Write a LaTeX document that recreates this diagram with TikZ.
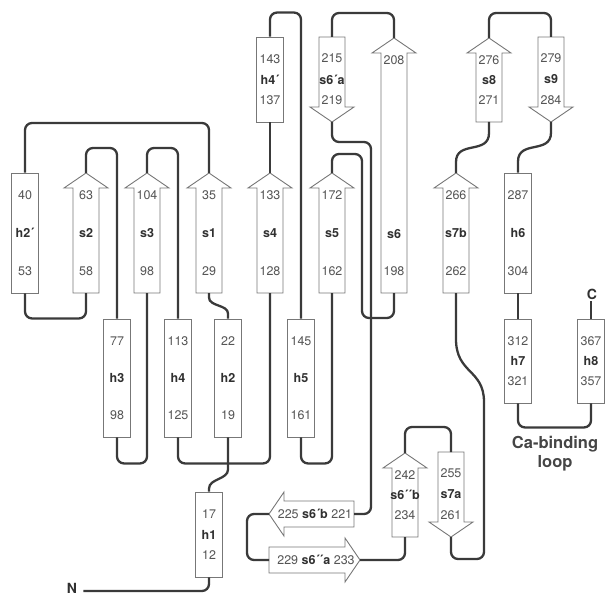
\documentclass[tikz,border=0pt]{standalone}
\usepackage{fontspec}
\setmainfont{TeX Gyre Heros}
\usepackage{xcolor}
\usepackage{tikz}

\definecolor{loopgray}{HTML}{3A3A3A}
\definecolor{boxgray}{HTML}{777777}
\definecolor{numgray}{HTML}{555555}
\definecolor{labgray}{HTML}{303030}

\newcommand{\drawhelix}[7]{%
  \node[helixbox, minimum height={(#4-#3)*1pt}] (#1) at ({#2},{(#3+#4)/2}) {};
  \node[numtext] (#1-a) at ({#2},{#3+22}) {#5};
  \node[labtext] (#1-l) at ({#2},{(#3+#4)/2}) {#6};
  \node[numtext] (#1-b) at ({#2},{#4-22}) {#7};
}
\newcommand{\drawstrandup}[7]{%
  \draw[strandbox] ({#2-13},{#4}) -- ({#2-13},{#3+15}) -- ({#2-22},{#3+15}) -- ({#2},{#3})
    -- ({#2+22},{#3+15}) -- ({#2+13},{#3+15}) -- ({#2+13},{#4}) -- cycle;
  \coordinate (#1-tip) at ({#2},{#3});
  \coordinate (#1-tail) at ({#2},{#4});
  \node[numtext] (#1-a) at ({#2},{#3+22}) {#5};
  \node[labtext] (#1-l) at ({#2},{(#3+#4)/2}) {#6};
  \node[numtext] (#1-b) at ({#2},{#4-22}) {#7};
}
\newcommand{\drawstranddown}[7]{%
  \draw[strandbox] ({#2-13},{#3}) -- ({#2+13},{#3}) -- ({#2+13},{#4-15}) -- ({#2+22},{#4-15})
    -- ({#2},{#4}) -- ({#2-22},{#4-15}) -- ({#2-13},{#4-15}) -- cycle;
  \coordinate (#1-tail) at ({#2},{#3});
  \coordinate (#1-tip) at ({#2},{#4});
  \node[numtext] (#1-a) at ({#2},{#3+21}) {#5};
  \node[labtext] (#1-l) at ({#2},{(#3+#4)/2}) {#6};
  \node[numtext] (#1-b) at ({#2},{#4-22}) {#7};
}

\begin{document}
\begin{tikzpicture}[x=1pt, y=-1pt,
  helixbox/.style={draw=boxgray, fill=white, line width=0.9pt, minimum width=27pt, inner sep=0pt},
  strandbox/.style={draw=boxgray, fill=white, line width=0.9pt},
  numtext/.style={text=numgray, font=\fontsize{12.5}{14}\selectfont, inner sep=0pt},
  labtext/.style={text=labgray, font=\fontsize{12.5}{14}\selectfont\bfseries, inner sep=0pt},
  endtext/.style={text=labgray, font=\fontsize{14}{16}\selectfont\bfseries},
  conn/.style={draw=loopgray, line width=2.3pt, rounded corners=7pt}]
  \useasboundingbox (0,0) rectangle (605,596);

  % helices
  \drawhelix{h2p}{25}{173}{293}{40}{h2´}{53}
  \drawhelix{h4p}{270}{37}{122}{143}{h4´}{137}
  \drawhelix{h3}{117}{319}{437}{77}{h3}{98}
  \drawhelix{h4}{178}{319}{437}{113}{h4}{125}
  \drawhelix{h2}{228}{319}{437}{22}{h2}{19}
  \drawhelix{h5}{301}{319}{437}{145}{h5}{161}
  \drawhelix{h1}{209}{492}{577}{17}{h1}{12}
  \drawhelix{h6}{518}{173}{293}{287}{h6}{304}
  \drawhelix{h7}{518}{319}{403}{312}{h7}{321}
  \drawhelix{h8}{591}{319}{403}{367}{h8}{357}

  % strands
  \drawstrandup{s2}{86}{173}{293}{63}{s2}{58}
  \drawstrandup{s3}{147}{173}{293}{104}{s3}{98}
  \drawstrandup{s1}{209}{173}{293}{35}{s1}{29}
  \drawstrandup{s4}{270}{173}{293}{133}{s4}{128}
  \drawstrandup{s5}{332}{173}{293}{172}{s5}{162}
  \drawstrandup{s6}{394}{38}{293}{208}{}{198}
  \node[labtext] (s6-lab) at (394,234) {s6};
  \drawstrandup{s7b}{456}{173}{293}{266}{s7b}{262}
  \drawstrandup{s8}{489}{38}{122}{276}{s8}{271}
  \drawstrandup{s6ppb}{405}{453}{537}{242}{s6´\kern-0.5pt´b}{234}
  \drawstranddown{s6pa}{332}{37}{122}{215}{s6´a}{219}
  \drawstranddown{s9}{551}{37}{122}{279}{s9}{284}
  \drawstranddown{s7a}{451}{452}{537}{255}{s7a}{261}

  \draw[strandbox] (354,501) -- (284,501) -- (284,492) -- (269,514) -- (284,536) -- (284,527) -- (354,527) -- cycle;
  \coordinate (s6pb-tip) at (269,514);
  \coordinate (s6pb-tail) at (354,514);
  \node[numtext] (s6pb-t) at (315,514) {225 {\color{labgray}\bfseries s6´b} 221};
  \draw[strandbox] (269,547) -- (345,547) -- (345,538) -- (360,560) -- (345,582) -- (345,573) -- (269,573) -- cycle;
  \coordinate (s6ppa-tail) at (269,560);
  \coordinate (s6ppa-tip) at (360,560);
  \node[numtext] (s6ppa-t) at (316,560) {229 {\color{labgray}\bfseries s6´\kern-0.5pt´a} 233};

  % termini and loop label
  \node[endtext, inner xsep=6pt, inner ysep=2pt] (N) at (72,588) {N};
  \node[endtext, inner sep=2pt] (C) at (592,294) {C};
  \node[endtext, text=labgray!90, font=\fontsize{16.5}{19}\selectfont\bfseries, align=center] (cab) at (555,454) {Ca-binding\\loop};

  % connections
  \draw[conn] ([yshift=-3pt]N.east) -| (h1.south);
  \draw[conn, sharp corners] (h1.north) -- ++(0,-3) .. controls +(0,-10) and +(0,10) .. ++(19,-19) -- (h2.south);
  \draw[conn, sharp corners] (h2.north) -- ++(0,-5) .. controls +(0,-9) and +(0,9) .. ++(-19,-16) -- (s1-tail);
  \draw[conn] (s1-tip) -- ++(0,-50) -| (h2p.north);
  \draw[conn] (h2p.south) -- ++(0,25) -| (s2-tail);
  \draw[conn] (s2-tip) -- ++(0,-25) -| (h3.north);
  \draw[conn] (h3.south) -- ++(0,26) -| (s3-tail);
  \draw[conn] (s3-tip) -- ++(0,-25) -| (h4.north);
  \draw[conn] (h4.south) -- ++(0,26) -| (s4-tail);
  \draw[conn] (s4-tip) -- (h4p.south);
  \draw[conn] (h4p.north) -- ++(0,-24) -| (h5.north);
  \draw[conn] (h5.south) -- ++(0,26) -| (s5-tail);
  \draw[conn] (s5-tip) -- ++(0,-19) -- ++(30,0) -- ++(0,164) -| (s6-tail);
  \draw[conn] (s6-tip) -- ++(0,-25) -| (s6pa-tail);
  \draw[conn] (s6pa-tip) -- ++(0,20) -- ++(39,0) |- (s6pb-tail);
  \draw[conn] (s6pb-tip) -- ++(-22,0) |- (s6ppa-tail);
  \draw[conn] (s6ppa-tip) -| (s6ppb-tail);
  \draw[conn] (s6ppb-tip) -- ++(0,-26) -| (s7a-tail);
  \draw[conn] (s7a-tip) -- ++(0,22) -- ++(33,0) -- ++(0,-150) [sharp corners] .. controls +(0,-40) and +(0,35) .. ++(-28,-70) -- (s7b-tail);
  \draw[conn, sharp corners] (s7b-tip) -- ++(0,-11) .. controls +(0,-22) and +(0,22) .. ++(33,-29) -- (s8-tail);
  \draw[conn] (s8-tip) -- ++(0,-25) -| (s9-tail);
  \draw[conn, sharp corners] (h6.north) -- ++(0,-11) .. controls +(0,-22) and +(0,22) .. ++(33,-29) -- (s9-tip);
  \draw[conn] (h6.south) -- (h7.north);
  \draw[conn] (h7.south) -- ++(0,24) -| (h8.south);
  \draw[conn] (h8.north) -- (h8.north |- C.south);
\end{tikzpicture}
\end{document}
